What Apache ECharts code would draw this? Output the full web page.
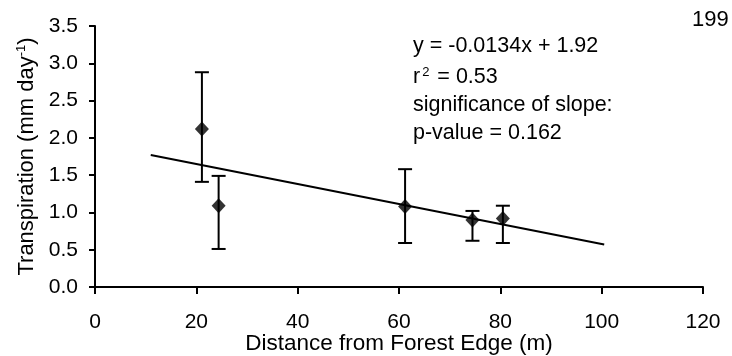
<!DOCTYPE html>
<html><head><meta charset="utf-8">
<script src="https://cdn.jsdelivr.net/npm/echarts@6/dist/echarts.min.js"></script>
<style>html,body{margin:0;padding:0;background:#fff}#c{width:732px;height:356px}</style>
</head><body><div id="c"></div>
<script>
var distances = [21.1, 24.4, 61.2, 74.5, 80.5];
var transpiration = [2.12, 1.09, 1.08, 0.90, 0.92];
var errUpper = [2.88, 1.49, 1.58, 1.02, 1.09];
var errLower = [1.41, 0.51, 0.59, 0.62, 0.59];
var trendX = [11, 100.5];
var trendY = [1.77, 0.57];
var xTicks = [0, 20, 40, 60, 80, 100, 120];
var yTicks = [0.0, 0.5, 1.0, 1.5, 2.0, 2.5, 3.0, 3.5];

var FONT = '"Liberation Sans", Arial, sans-serif';
var chart = echarts.init(document.getElementById('c'), null, {renderer: 'canvas'});
var pts = distances.map(function (d, i) { return [d, transpiration[i]]; });
var errs = distances.map(function (d, i) { return [d, errLower[i], errUpper[i]]; });
var trend = trendX.map(function (d, i) { return [d, trendY[i]]; });

chart.setOption({
  animation: false,
  backgroundColor: '#fff',
  grid: {left: 95, right: 29, top: 26, bottom: 69, containLabel: false, outerBoundsMode: 'none'},
  xAxis: {
    type: 'value', min: 0, max: 120, interval: 20,
    name: 'Distance from Forest Edge (m)', nameLocation: 'middle', nameGap: 45, nameMoveOverlap: false,
    nameTextStyle: {fontFamily: FONT, fontSize: 22.5, color: '#000'},
    axisLine: {show: true, onZero: false, lineStyle: {color: '#000', width: 2}},
    axisTick: {show: true, length: 7, lineStyle: {color: '#000', width: 2}},
    axisLabel: {fontFamily: FONT, fontSize: 21, color: '#000', margin: 25,
      formatter: function (v) { return xTicks.indexOf(v) >= 0 ? String(v) : ''; }},
    splitLine: {show: false}
  },
  yAxis: {
    type: 'value', min: 0, max: 3.5, interval: 0.5,
    name: '{n|Transpiration (mm day}{s|-1}{n|)}', nameLocation: 'middle', nameGap: 57,
    nameTextStyle: {fontFamily: FONT, fontSize: 22, color: '#000',
      rich: {n: {fontFamily: FONT, fontSize: 22, color: '#000'},
             s: {fontFamily: FONT, fontSize: 13, color: '#000', verticalAlign: 'top', padding: [0, 0, 10, 0]}}},
    axisLine: {show: true, lineStyle: {color: '#000', width: 2}},
    axisTick: {show: true, length: 6, lineStyle: {color: '#000', width: 2}},
    axisLabel: {fontFamily: FONT, fontSize: 21, color: '#000', margin: 17,
      formatter: function (v) { return v.toFixed(1); }},
    splitLine: {show: false}
  },
  series: [
    {
      type: 'line', data: trend, symbol: 'none', silent: true,
      lineStyle: {color: '#000', width: 2}, z: 2
    },
    {
      type: 'custom', data: errs, z: 3, silent: true,
      renderItem: function (params, api) {
        var x = api.value(0);
        var lo = api.coord([x, api.value(1)]);
        var hi = api.coord([x, api.value(2)]);
        var hw = 7;
        var st = {stroke: '#000', lineWidth: 2};
        return {type: 'group', children: [
          {type: 'line', shape: {x1: lo[0], y1: lo[1], x2: hi[0], y2: hi[1]}, style: st},
          {type: 'line', shape: {x1: lo[0] - hw, y1: lo[1], x2: lo[0] + hw, y2: lo[1]}, style: st},
          {type: 'line', shape: {x1: hi[0] - hw, y1: hi[1], x2: hi[0] + hw, y2: hi[1]}, style: st}
        ]};
      }
    },
    {
      type: 'scatter', data: pts, symbol: 'diamond', symbolSize: [14, 15],
      itemStyle: {color: '#000'}, z: 4
    }
  ],
  graphic: [
    {type: 'text', left: 692, top: 9, style: {text: '199', font: '22px ' + FONT, fill: '#000'}},
    {type: 'text', left: 413, top: 35, style: {text: 'y = -0.0134x + 1.92', font: '21.5px ' + FONT, fill: '#000'}},
    {type: 'text', left: 413, top: 66, style: {
      text: '{a|r}{s|2}{a| = 0.53}',
      rich: {a: {fontFamily: FONT, fontSize: 21.5, color: '#000'},
             s: {fontFamily: FONT, fontSize: 13, color: '#000', verticalAlign: 'top', padding: [0, 2, 10, 2]}}}},
    {type: 'text', left: 413, top: 94, style: {text: 'significance of slope:', font: '21.5px ' + FONT, fill: '#000'}},
    {type: 'text', left: 413, top: 122, style: {text: 'p-value = 0.162', font: '21.5px ' + FONT, fill: '#000'}}
  ]
});
</script></body></html>
